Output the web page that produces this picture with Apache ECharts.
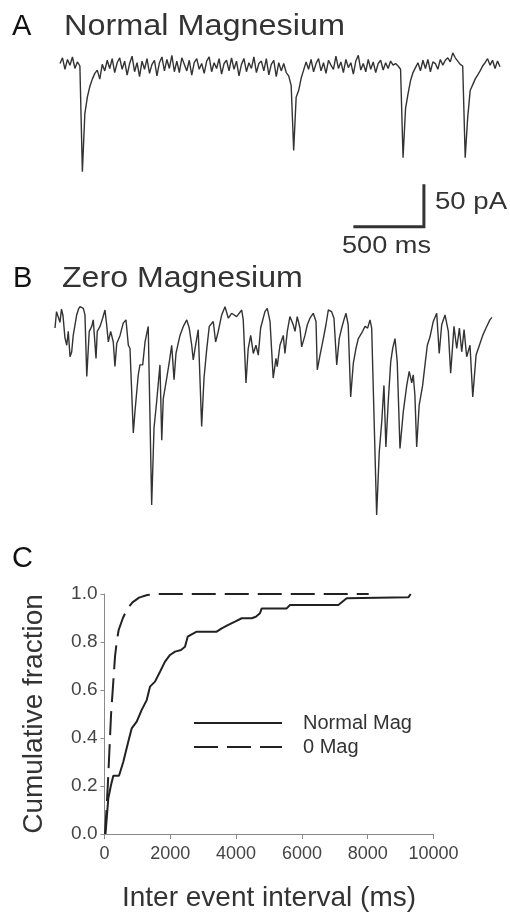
<!DOCTYPE html>
<html><head><meta charset="utf-8">
<script src="https://cdn.jsdelivr.net/npm/echarts@6/dist/echarts.min.js"></script>
<style>html,body{margin:0;padding:0;background:#fff}#c{width:510px;height:914px}</style>
</head><body><div id="c"></div>
<script>
const FONT = '"Liberation Sans", Arial, Helvetica, sans-serif';

// ---- Panel A: Normal Magnesium trace (pA), one sample every 18 ms ----
const sampleMsA = 18;
const currentA = [
  3, 10, -4, 8, 1, 11, -3, 5, 0,
  -129, -58, -38, -25, -16, -9, -5, -16, 2,
  -6, 7, -3, 9, -8, 4, 10, -4, 6, -11, 3, 12, -7, 4, -13, 6, -4, 9, -9, 2,
  7, -12, 4, 11, -6, 8, -3, 13, -7, 6, -8, 10, 2, -6, 7, -11, 4, 9, -4, 3,
  -9, 6, 11, -7, 4, -3, 9, -10, 3, 7, -6, 10, -4, 6, -12, 2, 9, -7, 4, -3,
  11, -8, 3, 6, -6, 9, -11, 2, 7, -13, 4, -6, 3, -8,
  -12, -24, -103, -38, -30, -15, -5,
  5, -4, 8, -7, 3, 9, -6, 4, -9, 7, 1, -4, 12, -3, 5, -8, 8, -2, 4, -10,
  6, 13, -5, 3, -7, 8, -4, 5, -8, 3, 7, -5, 4, -3, 6, 1, 3, 0,
  -4, -112, -52, -34, -18, -8, -2,
  4, -6, 7, -3, 8, -7, 5, 3, -4, 8, 1, 7, 10, 5, 16, 10, 6, 2, 0,
  -112, -63, -30, -23, -16, -11, -6, 0, 4, 9, 1, 7, -3, 6, -1
];

// ---- Scale bar (shared by traces A and B) ----
const scaleBarMs = 500;
const scaleBarPA = 50;
const scaleBarCornerMs = 2635;
const scaleBarCornerPA = -196;

// ---- Panel B: Zero Magnesium trace ----
const timeB = [
  0, 11, 24, 36, 47, 58, 72, 85, 96, 109, 121, 132, 157, 170, 181, 205, 217, 230, 248, 266,
  277, 297, 306, 326, 345, 362, 374, 386, 403, 422, 434, 447, 471, 494, 514, 531, 543, 567, 579, 603,
  615, 635, 652, 675, 700, 717, 736, 760, 773, 784, 809, 828, 845, 862, 876, 905, 929, 954, 972, 990,
  1001, 1014, 1037, 1062, 1079, 1098, 1117, 1146, 1163, 1182, 1207, 1231, 1255, 1279, 1315, 1352, 1363, 1383, 1399, 1417,
  1436, 1455, 1472, 1489, 1520, 1537, 1557, 1580, 1600, 1609, 1629, 1653, 1665, 1682, 1701, 1725, 1738, 1754, 1774, 1786,
  1810, 1827, 1846, 1870, 1890, 1899, 1919, 1943, 1962, 1979, 2003, 2020, 2040, 2058, 2076, 2092, 2107, 2123, 2141, 2160,
  2179, 2196, 2221, 2245, 2264, 2281, 2293, 2329, 2348, 2366, 2382, 2396, 2413, 2431, 2445, 2462, 2478, 2498, 2522, 2547,
  2565, 2583, 2594, 2606, 2619, 2637, 2662, 2679, 2696, 2715, 2739, 2764, 2782, 2800, 2824, 2848, 2865, 2889, 2909, 2928,
  2945, 2962, 2981, 3005, 3025, 3049, 3073, 3097, 3121, 3149, 3164
];
const currentB = [
  -22, -2, -2, -15, 1, -7, -34, -43, -26, -57, -51, -31, -6, 1, 4, 2, -6, -81, -26, -20,
  -12, -59, -26, -20, -10, 0, -18, -39, -26, -39, -69, -41, -31, -16, -12, -43, -47, -150, -124, -79,
  -67, -67, -39, -20, -238, -144, -112, -67, -159, -108, -83, -63, -43, -85, -53, -31, -20, -12, -22, -43,
  -61, -47, -24, -142, -83, -49, -20, -14, -39, -26, -6, 4, -10, -4, -8, 0, -12, -89, -47, -31,
  -53, -43, -55, -22, -2, 2, -14, -83, -59, -69, -43, -31, -53, -26, -8, -18, -26, -8, -22, -45,
  -31, -18, -10, -4, -14, -73, -55, -35, -18, 0, -2, -10, -67, -35, -22, -12, -4, -18, -106, -65,
  -47, -35, -28, -20, -22, -12, -22, -250, -173, -136, -92, -167, -112, -63, -47, -35, -63, -169, -124, -92,
  -75, -89, -79, -104, -167, -116, -92, -67, -43, -33, -14, -4, -53, -18, -6, -26, -77, -20, -47, -22,
  -51, -24, -57, -43, -106, -55, -43, -31, -22, -12, -9
];

// ---- Panel C: cumulative distributions of inter event intervals ----
const normalMagMs = [30, 116, 198, 268, 441, 572, 724, 826, 979, 1131, 1283, 1383, 1535, 1687, 1839, 1991, 2143, 2325, 2447, 2528,
  2650, 2802, 3410, 3562, 3763, 3967, 4170, 4474, 4600, 4726, 4778, 5538, 5638, 7107, 7362, 9234, 9307];
const normalMagFrac = [0, 0.149, 0.204, 0.243, 0.243, 0.301, 0.385, 0.44, 0.468, 0.517, 0.558, 0.614, 0.635, 0.676, 0.718, 0.746, 0.76, 0.767, 0.78, 0.822,
  0.832, 0.843, 0.843, 0.857, 0.871, 0.885, 0.899, 0.899, 0.905, 0.92, 0.94, 0.94, 0.954, 0.954, 0.982, 0.986, 1.0];
const zeroMagMs = [15, 60, 100, 150, 200, 260, 320, 371, 430, 560, 700, 850, 1050, 1300, 1700, 8030];
const zeroMagFrac = [0, 0.1, 0.2, 0.35, 0.5, 0.62, 0.74, 0.8, 0.85, 0.9, 0.94, 0.965, 0.985, 0.996, 1.0, 1.0];
const xTicksC = [0, 2000, 4000, 6000, 8000, 10000];
const yTicksC = [0, 0.2, 0.4, 0.6, 0.8, 1.0];
const seriesNames = ['Normal Mag', '0 Mag'];

const zip = (xs, ys) => xs.map((x, i) => [x, ys[i]]);
const traceA = currentA.map((v, i) => [i * sampleMsA, v]);
const traceB = zip(timeB, currentB);
const scaleBar = [
  [scaleBarCornerMs - scaleBarMs, scaleBarCornerPA],
  [scaleBarCornerMs, scaleBarCornerPA],
  [scaleBarCornerMs, scaleBarCornerPA + scaleBarPA]
];

const chart = echarts.init(document.getElementById('c'), null, {renderer: 'canvas'});
const traceColor = '#333';
const hiddenX = (g) => ({gridIndex: g, type: 'value', min: 0, max: 3186, show: false});
const label = (text, x, y, size, fill, sx) => ({
  type: 'text', x: x, y: y, scaleX: sx, silent: true,
  style: {text: text, x: 0, y: 0, font: size + 'px ' + FONT, fill: fill, verticalAlign: 'middle'}
});

chart.setOption({
  animation: false,
  backgroundColor: '#fff',
  textStyle: {fontFamily: FONT},
  grid: [
    {left: 60, top: 51, width: 440, height: 181},
    {left: 55, top: 300, width: 440, height: 220},
    {left: 104.5, top: 594, width: 329, height: 240}
  ],
  xAxis: [
    hiddenX(0),
    hiddenX(1),
    {
      gridIndex: 2, type: 'value', min: xTicksC[0], max: xTicksC[xTicksC.length - 1], interval: 2000,
      axisLine: {lineStyle: {color: '#8a8a8a', width: 1}},
      axisTick: {show: true, length: 5, lineStyle: {color: '#8a8a8a'}},
      splitLine: {show: false},
      axisLabel: {fontSize: 18, color: '#444', margin: 11, fontFamily: FONT, formatter: v => String(v)},
      name: 'Inter event interval (ms)', nameLocation: 'middle', nameGap: 50,
      nameTextStyle: {fontSize: 28, color: '#333', fontFamily: FONT}
    }
  ],
  yAxis: [
    {gridIndex: 0, type: 'value', min: -202.5, max: 18.3, show: false},
    {gridIndex: 1, type: 'value', min: -256.2, max: 12.2, show: false},
    {
      gridIndex: 2, type: 'value', min: 0, max: 1, interval: 0.2,
      axisLine: {show: true, lineStyle: {color: '#8a8a8a', width: 1}},
      axisTick: {show: true, length: 4, lineStyle: {color: '#8a8a8a'}},
      splitLine: {show: false},
      axisLabel: {fontSize: 19, color: '#444', margin: 7, fontFamily: FONT, formatter: v => v.toFixed(1)},
      name: 'Cumulative fraction', nameLocation: 'middle', nameGap: 56,
      nameTextStyle: {fontSize: 28, color: '#333', fontFamily: FONT}
    }
  ],
  legend: {
    orient: 'vertical', left: 193, top: 711, padding: 0, itemWidth: 88, itemHeight: 14, itemGap: 0,
    data: seriesNames, selectedMode: false,
    itemStyle: {opacity: 0},
    textStyle: {fontSize: 20, color: '#333', fontFamily: FONT, lineHeight: 24, padding: [0, 0, 0, 16]}
  },
  series: [
    {type: 'line', xAxisIndex: 0, yAxisIndex: 0, data: traceA, symbol: 'none', silent: true,
      lineStyle: {color: traceColor, width: 1.4}},
    {type: 'line', xAxisIndex: 0, yAxisIndex: 0, data: scaleBar, symbol: 'none', silent: true, clip: false,
      lineStyle: {color: traceColor, width: 3, join: 'miter', cap: 'square'}},
    {type: 'line', xAxisIndex: 1, yAxisIndex: 1, data: traceB, symbol: 'none', silent: true,
      lineStyle: {color: traceColor, width: 1.4}},
    {name: seriesNames[0], type: 'line', xAxisIndex: 2, yAxisIndex: 2, data: zip(normalMagMs, normalMagFrac),
      symbol: 'none', silent: true, itemStyle: {color: '#222'}, lineStyle: {color: '#222', width: 2}},
    {name: seriesNames[1], type: 'line', xAxisIndex: 2, yAxisIndex: 2, data: zip(zeroMagMs, zeroMagFrac),
      symbol: 'none', silent: true, itemStyle: {color: '#222'}, lineStyle: {color: '#222', width: 2, type: [24, 9]}}
  ],
  graphic: [
    label('A', 12, 27, 29, '#111', 1),
    label('Normal Magnesium', 64, 27, 30, '#333', 1.08),
    label('B', 13, 279, 29, '#111', 1),
    label('Zero Magnesium', 62, 279, 30, '#333', 1.07),
    label('C', 12, 559, 29, '#111', 1),
    label('50 pA', 435, 203, 23, '#333', 1.2),
    label('500 ms', 342, 247, 23, '#333', 1.18)
  ]
});
</script></body></html>
